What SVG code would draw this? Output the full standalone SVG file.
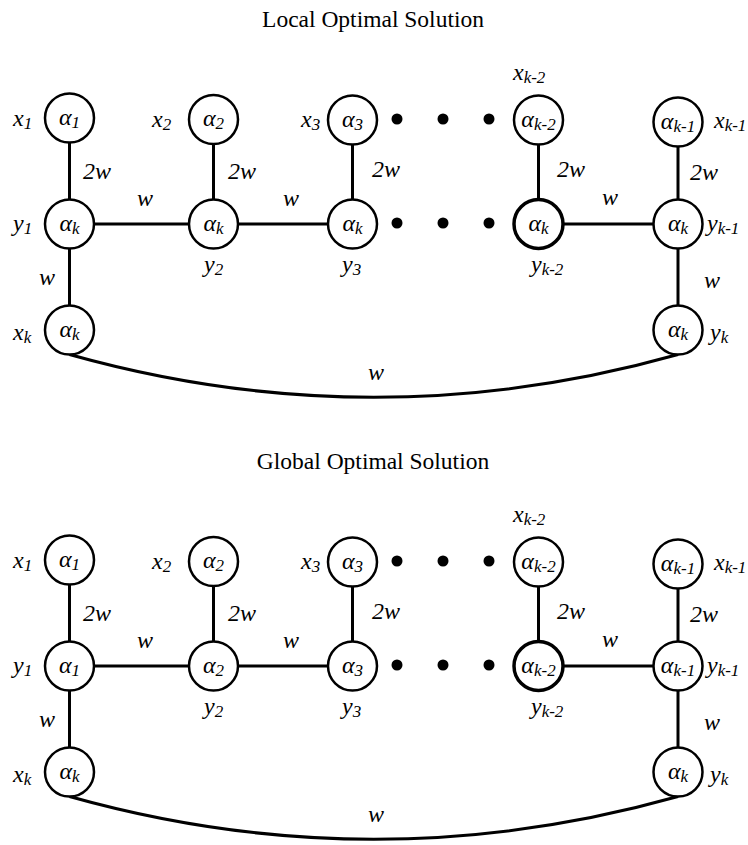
<svg xmlns="http://www.w3.org/2000/svg" width="748" height="845" viewBox="0 0 748 845">
<style>
text{font-family:"Liberation Serif","Times New Roman",serif;font-size:24px;fill:#000}
.t{font-size:23.5px}
.l{font-style:italic}
.n{font-style:italic;text-anchor:middle}
.m{text-anchor:middle}
.s{font-size:17px}
circle.nd{fill:#fff;stroke:#000;stroke-width:2.5}
circle.bd{fill:#fff;stroke:#000;stroke-width:3.5}
circle.dot{fill:#000}
.e{stroke:#000;stroke-width:3;fill:none}
</style>

<!-- ============ TOP: Local Optimal Solution ============ -->
<g id="top">
<text class="t m" x="373" y="27">Local Optimal Solution</text>
<g id="top-edges">
<line class="e" x1="69.5" y1="142.5" x2="69.5" y2="199.5"/>
<line class="e" x1="213.5" y1="144" x2="213.5" y2="199.5"/>
<line class="e" x1="352.5" y1="144.5" x2="352.5" y2="199.5"/>
<line class="e" x1="538.5" y1="144.5" x2="538.5" y2="199.5"/>
<line class="e" x1="678" y1="146.5" x2="678" y2="199.5"/>
<line class="e" x1="94" y1="224" x2="189" y2="224"/>
<line class="e" x1="238" y1="224" x2="328" y2="224"/>
<line class="e" x1="563" y1="224" x2="653.5" y2="224"/>
<line class="e" x1="69.5" y1="248.5" x2="69.5" y2="305.5"/>
<line class="e" x1="678" y1="248.5" x2="678" y2="305.5"/>
<path class="e" d="M69.5 354.5 Q374 440 678 354.5"/>
<text class="l" x="83" y="179">2w</text>
<text class="l" x="228" y="179">2w</text>
<text class="l" x="372" y="177">2w</text>
<text class="l" x="557" y="177">2w</text>
<text class="l" x="690" y="180">2w</text>
<text class="n" x="145" y="206">w</text>
<text class="n" x="291" y="206">w</text>
<text class="n" x="610" y="205">w</text>
<text class="l" x="39" y="285">w</text>
<text class="l" x="704" y="288">w</text>
<text class="n" x="376" y="380">w</text>
</g>
<g id="top-dots">
<circle class="dot" cx="397" cy="119" r="5.5"/>
<circle class="dot" cx="443" cy="119" r="5.5"/>
<circle class="dot" cx="489" cy="119" r="5.5"/>
<circle class="dot" cx="397" cy="223" r="5.5"/>
<circle class="dot" cx="443" cy="223" r="5.5"/>
<circle class="dot" cx="489" cy="223" r="5.5"/>
</g>
<g id="t-x1"><circle class="nd" cx="69.5" cy="118" r="24.5"/><text class="n" x="69.5" y="125">α<tspan class="s" dy="3">1</tspan></text><text class="l" x="13" y="126">x<tspan class="s" dy="3">1</tspan></text></g>
<g id="t-x2"><circle class="nd" cx="213.5" cy="119.5" r="24.5"/><text class="n" x="213.5" y="126">α<tspan class="s" dy="3">2</tspan></text><text class="l" x="152" y="127">x<tspan class="s" dy="3">2</tspan></text></g>
<g id="t-x3"><circle class="nd" cx="352.5" cy="120" r="24.5"/><text class="n" x="352.5" y="127">α<tspan class="s" dy="3">3</tspan></text><text class="l" x="301" y="127">x<tspan class="s" dy="3">3</tspan></text></g>
<g id="t-xk2"><circle class="nd" cx="538.5" cy="120" r="24.5"/><text class="n" x="538.5" y="127">α<tspan class="s" dy="3">k-2</tspan></text><text class="l" x="513" y="80">x<tspan class="s" dy="3">k-2</tspan></text></g>
<g id="t-xk1"><circle class="nd" cx="678" cy="122" r="24.5"/><text class="n" x="678" y="129">α<tspan class="s" dy="3">k-1</tspan></text><text class="l" x="714" y="128">x<tspan class="s" dy="3">k-1</tspan></text></g>
<g id="t-y1"><circle class="nd" cx="69.5" cy="224" r="24.5"/><text class="n" x="69.5" y="231">α<tspan class="s" dy="3">k</tspan></text><text class="l" x="13" y="231">y<tspan class="s" dy="3">1</tspan></text></g>
<g id="t-y2"><circle class="nd" cx="213.5" cy="224" r="24.5"/><text class="n" x="213.5" y="231">α<tspan class="s" dy="3">k</tspan></text><text class="l" x="204" y="272">y<tspan class="s" dy="3">2</tspan></text></g>
<g id="t-y3"><circle class="nd" cx="352.5" cy="224" r="24.5"/><text class="n" x="352.5" y="231">α<tspan class="s" dy="3">k</tspan></text><text class="l" x="342" y="272">y<tspan class="s" dy="3">3</tspan></text></g>
<g id="t-yk2"><circle class="bd" cx="538.5" cy="224" r="24.5"/><text class="n" x="538.5" y="231">α<tspan class="s" dy="3">k</tspan></text><text class="l" x="531" y="272">y<tspan class="s" dy="3">k-2</tspan></text></g>
<g id="t-yk1"><circle class="nd" cx="678" cy="224" r="24.5"/><text class="n" x="678" y="231">α<tspan class="s" dy="3">k</tspan></text><text class="l" x="707" y="231">y<tspan class="s" dy="3">k-1</tspan></text></g>
<g id="t-xk"><circle class="nd" cx="69.5" cy="330" r="24.5"/><text class="n" x="69.5" y="337">α<tspan class="s" dy="3">k</tspan></text><text class="l" x="13" y="340">x<tspan class="s" dy="3">k</tspan></text></g>
<g id="t-yk"><circle class="nd" cx="678" cy="330" r="24.5"/><text class="n" x="678" y="337">α<tspan class="s" dy="3">k</tspan></text><text class="l" x="710" y="340">y<tspan class="s" dy="3">k</tspan></text></g>
</g>

<!-- ============ BOTTOM: Global Optimal Solution ============ -->
<g id="bottom" transform="translate(0,442)">
<text class="t m" x="373" y="27">Global Optimal Solution</text>
<g id="bottom-edges">
<line class="e" x1="69.5" y1="142.5" x2="69.5" y2="199.5"/>
<line class="e" x1="213.5" y1="144" x2="213.5" y2="199.5"/>
<line class="e" x1="352.5" y1="144.5" x2="352.5" y2="199.5"/>
<line class="e" x1="538.5" y1="144.5" x2="538.5" y2="199.5"/>
<line class="e" x1="678" y1="146.5" x2="678" y2="199.5"/>
<line class="e" x1="94" y1="224" x2="189" y2="224"/>
<line class="e" x1="238" y1="224" x2="328" y2="224"/>
<line class="e" x1="563" y1="224" x2="653.5" y2="224"/>
<line class="e" x1="69.5" y1="248.5" x2="69.5" y2="305.5"/>
<line class="e" x1="678" y1="248.5" x2="678" y2="305.5"/>
<path class="e" d="M69.5 354.5 Q374 440 678 354.5"/>
<text class="l" x="83" y="179">2w</text>
<text class="l" x="228" y="179">2w</text>
<text class="l" x="372" y="177">2w</text>
<text class="l" x="557" y="177">2w</text>
<text class="l" x="690" y="180">2w</text>
<text class="n" x="145" y="206">w</text>
<text class="n" x="291" y="206">w</text>
<text class="n" x="610" y="205">w</text>
<text class="l" x="39" y="285">w</text>
<text class="l" x="704" y="288">w</text>
<text class="n" x="376" y="380">w</text>
</g>
<g id="bottom-dots">
<circle class="dot" cx="397" cy="119" r="5.5"/>
<circle class="dot" cx="443" cy="119" r="5.5"/>
<circle class="dot" cx="489" cy="119" r="5.5"/>
<circle class="dot" cx="397" cy="223" r="5.5"/>
<circle class="dot" cx="443" cy="223" r="5.5"/>
<circle class="dot" cx="489" cy="223" r="5.5"/>
</g>
<g id="b-x1"><circle class="nd" cx="69.5" cy="118" r="24.5"/><text class="n" x="69.5" y="125">α<tspan class="s" dy="3">1</tspan></text><text class="l" x="13" y="126">x<tspan class="s" dy="3">1</tspan></text></g>
<g id="b-x2"><circle class="nd" cx="213.5" cy="119.5" r="24.5"/><text class="n" x="213.5" y="126">α<tspan class="s" dy="3">2</tspan></text><text class="l" x="152" y="127">x<tspan class="s" dy="3">2</tspan></text></g>
<g id="b-x3"><circle class="nd" cx="352.5" cy="120" r="24.5"/><text class="n" x="352.5" y="127">α<tspan class="s" dy="3">3</tspan></text><text class="l" x="301" y="127">x<tspan class="s" dy="3">3</tspan></text></g>
<g id="b-xk2"><circle class="nd" cx="538.5" cy="120" r="24.5"/><text class="n" x="538.5" y="127">α<tspan class="s" dy="3">k-2</tspan></text><text class="l" x="513" y="80">x<tspan class="s" dy="3">k-2</tspan></text></g>
<g id="b-xk1"><circle class="nd" cx="678" cy="122" r="24.5"/><text class="n" x="678" y="129">α<tspan class="s" dy="3">k-1</tspan></text><text class="l" x="714" y="128">x<tspan class="s" dy="3">k-1</tspan></text></g>
<g id="b-y1"><circle class="nd" cx="69.5" cy="224" r="24.5"/><text class="n" x="69.5" y="231">α<tspan class="s" dy="3">1</tspan></text><text class="l" x="13" y="231">y<tspan class="s" dy="3">1</tspan></text></g>
<g id="b-y2"><circle class="nd" cx="213.5" cy="224" r="24.5"/><text class="n" x="213.5" y="231">α<tspan class="s" dy="3">2</tspan></text><text class="l" x="204" y="272">y<tspan class="s" dy="3">2</tspan></text></g>
<g id="b-y3"><circle class="nd" cx="352.5" cy="224" r="24.5"/><text class="n" x="352.5" y="231">α<tspan class="s" dy="3">3</tspan></text><text class="l" x="342" y="272">y<tspan class="s" dy="3">3</tspan></text></g>
<g id="b-yk2"><circle class="bd" cx="538.5" cy="224" r="24.5"/><text class="n" x="538.5" y="231">α<tspan class="s" dy="3">k-2</tspan></text><text class="l" x="531" y="272">y<tspan class="s" dy="3">k-2</tspan></text></g>
<g id="b-yk1"><circle class="nd" cx="678" cy="224" r="24.5"/><text class="n" x="678" y="231">α<tspan class="s" dy="3">k-1</tspan></text><text class="l" x="707" y="231">y<tspan class="s" dy="3">k-1</tspan></text></g>
<g id="b-xk"><circle class="nd" cx="69.5" cy="330" r="24.5"/><text class="n" x="69.5" y="337">α<tspan class="s" dy="3">k</tspan></text><text class="l" x="13" y="340">x<tspan class="s" dy="3">k</tspan></text></g>
<g id="b-yk"><circle class="nd" cx="678" cy="330" r="24.5"/><text class="n" x="678" y="337">α<tspan class="s" dy="3">k</tspan></text><text class="l" x="710" y="340">y<tspan class="s" dy="3">k</tspan></text></g>
</g>
</svg>
